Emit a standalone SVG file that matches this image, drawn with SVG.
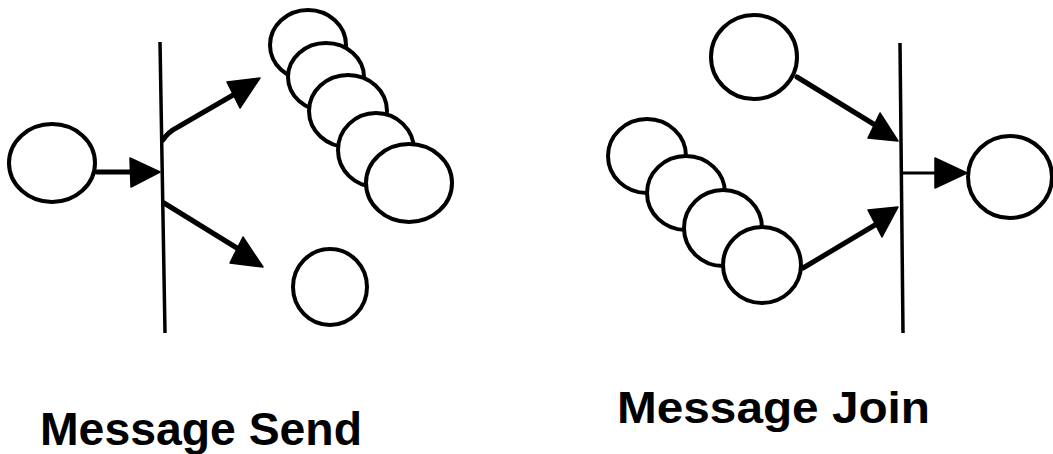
<svg xmlns="http://www.w3.org/2000/svg" width="1053" height="454" viewBox="0 0 1053 454">
<style>
.n{fill:#fff;stroke:#000;stroke-width:4}
.bar{stroke:#000;stroke-width:3.5;fill:none}
.ln{stroke:#000;stroke-width:5;fill:none;stroke-linecap:round}
.thin{stroke:#000;stroke-width:3;fill:none}
.hd{fill:#000;stroke:#000;stroke-width:1.5;stroke-linejoin:round}
.lbl{font-family:"Liberation Sans",Arial,sans-serif;font-weight:bold;fill:#000}
</style>
<rect width="1053" height="454" fill="#fff"/>
<g id="send-src"><ellipse class="n" cx="52" cy="163" rx="43" ry="39"/></g>
<g id="send-out1"><ellipse class="n" cx="308" cy="45" rx="38" ry="35"/></g>
<g id="send-out2"><ellipse class="n" cx="326" cy="77" rx="38" ry="34"/></g>
<g id="send-out3"><ellipse class="n" cx="348" cy="111" rx="39" ry="36"/></g>
<g id="send-out4"><ellipse class="n" cx="376" cy="150" rx="38" ry="37"/></g>
<g id="send-out5"><ellipse class="n" cx="409" cy="183" rx="43" ry="39"/></g>
<g id="send-out6"><ellipse class="n" cx="330" cy="287" rx="37" ry="38"/></g>
<g id="send-bar"><line class="bar" x1="160" y1="42" x2="165" y2="333"/></g>
<g id="join-src1"><ellipse class="n" cx="754" cy="57" rx="43" ry="42"/></g>
<g id="join-src2"><ellipse class="n" cx="647" cy="156" rx="39" ry="37"/></g>
<g id="join-src3"><ellipse class="n" cx="686" cy="193" rx="39" ry="37"/></g>
<g id="join-src4"><ellipse class="n" cx="723" cy="228" rx="39" ry="38"/></g>
<g id="join-src5"><ellipse class="n" cx="762" cy="265" rx="39" ry="38"/></g>
<g id="join-out"><ellipse class="n" cx="1010" cy="177" rx="42" ry="41"/></g>
<g id="join-bar"><line class="bar" x1="900" y1="43" x2="903" y2="333"/></g>
<g id="connectors">
<line class="ln" x1="97" y1="172" x2="140" y2="172"/>
<polygon class="hd" points="130,158 160,172 131,187"/>
<path class="ln" d="M163,140 Q168,132 178,127 L240,91"/>
<polygon class="hd" points="227,82 260,78 240,108"/>
<path class="ln" d="M164,203 L245,253"/>
<polygon class="hd" points="243,237 263,267 230,263"/>
<line class="ln" x1="797" y1="77" x2="880" y2="128"/>
<polygon class="hd" points="880,113 898,141 868,138"/>
<line class="ln" x1="803" y1="268" x2="880" y2="222"/>
<polygon class="hd" points="868,210 898,207 882,237"/>
<line class="thin" x1="903" y1="173" x2="945" y2="173"/>
<polygon class="hd" points="935,158 967,173 935,188"/>
</g>
<text class="lbl" x="40" y="445" font-size="47" textLength="322" lengthAdjust="spacingAndGlyphs">Message Send</text>
<text class="lbl" x="617" y="423" font-size="44" textLength="313" lengthAdjust="spacingAndGlyphs">Message Join</text>
</svg>
